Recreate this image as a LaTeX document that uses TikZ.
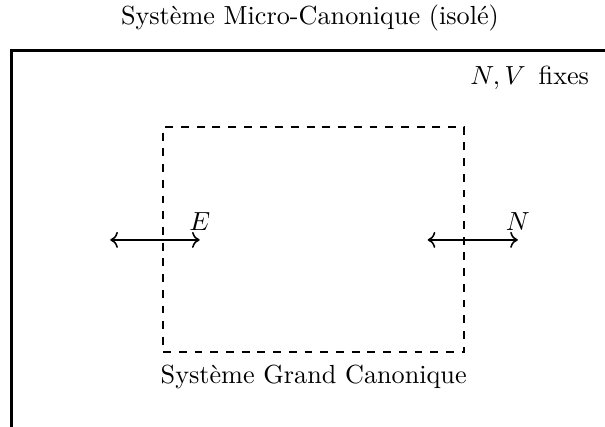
\documentclass[tikz,border=0pt]{standalone}
\usepackage{tikz}
\usetikzlibrary{arrows.meta, positioning}
\tikzset{
  enceinte/.style={draw, thick},
  reservoir/.style={rectangle, draw, thick, dashed, minimum width=4.04cm,
                    minimum height=3.02cm, inner sep=0pt},
  echange/.style={<->, semithick},
  etiq/.style={font=\normalsize}
}

\begin{document}
\begin{tikzpicture}
  \useasboundingbox (0,0) rectangle (8.12,-5.73);
  \clip (0,0) rectangle (8.12,-5.73);
  % systeme isole
  \coordinate (mc) at (0.154,-0.678);
  \draw[enceinte] (mc) rectangle (9,-7);
  \node[etiq] (titre) at (4.16,-0.24) {Système Micro-Canonique (isolé)};
  \node[etiq] (fixes) at (7.11,-1.05) {$N,V$\,\ fixes};
  % sous-systeme
  \node[reservoir] (gc) at (4.21,-3.215) {};
  \node[etiq, below=1pt of gc] (nomgc) {Système Grand Canonique};
  % echanges
  \coordinate (e1) at (1.48,-3.22);
  \coordinate (e2) at (2.68,-3.22);
  \coordinate (n1) at (5.74,-3.22);
  \coordinate (n2) at (6.95,-3.22);
  \draw[echange] (e1) -- (e2) node[above] (labE) {$E$};
  \draw[echange] (n1) -- (n2) node[above] (labN) {$N$};
\end{tikzpicture}
\end{document}
